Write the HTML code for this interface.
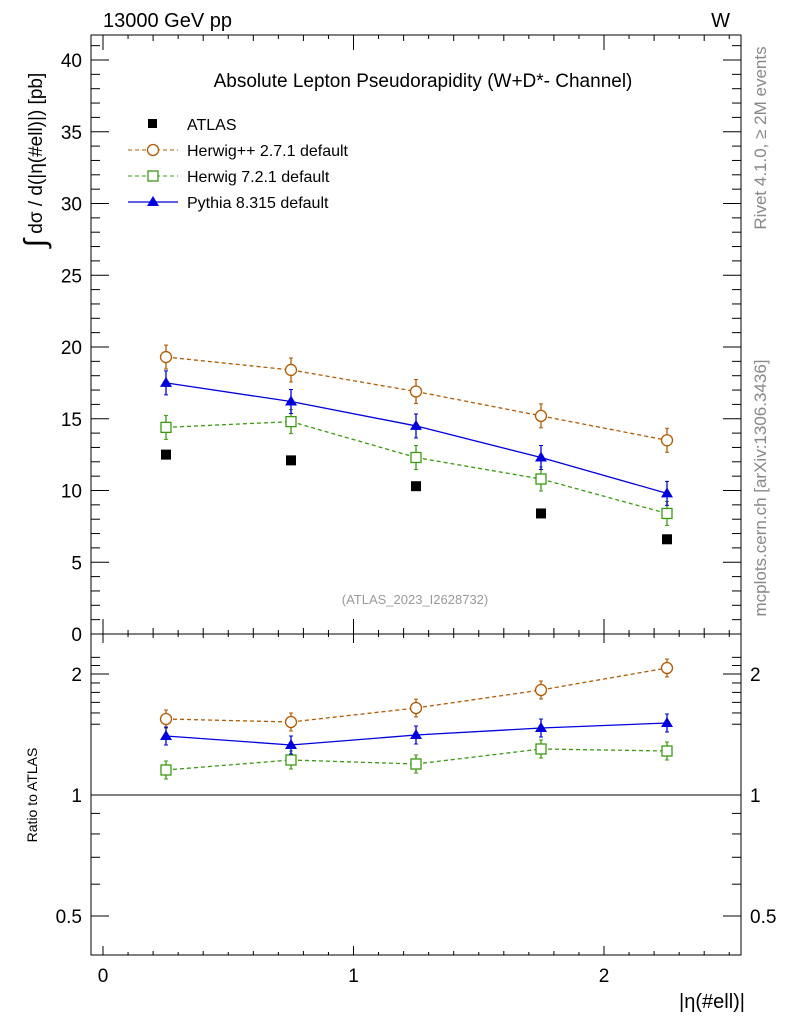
<!DOCTYPE html>
<html><head><meta charset="utf-8"><style>body{margin:0;background:#fff}svg{display:block}text{font-family:"Liberation Sans","DejaVu Sans",sans-serif}</style></head>
<body>
<svg id="s" width="786" height="1024" xmlns="http://www.w3.org/2000/svg">
<rect width="786" height="1024" fill="#fff"/>
<g id="ax" stroke="#000" stroke-width="1" fill="none">
<rect x="91" y="35" width="650" height="599"/>
<rect x="91" y="634" width="650" height="321"/>
<line x1="91" y1="795" x2="741" y2="795"/>
</g>
<g font-size="20">
<text x="103" y="27">13000 GeV pp</text>
<text x="730" y="27" text-anchor="end">W</text>
<text x="423" y="87" text-anchor="middle" font-size="19">Absolute Lepton Pseudorapidity (W+D*- Channel)</text>
</g>
<g font-size="16">
<text x="187" y="130">ATLAS</text>
<text x="187" y="156">Herwig++ 2.7.1 default</text>
<text x="187" y="182">Herwig 7.2.1 default</text>
<text x="187" y="208">Pythia 8.315 default</text>
</g>
<rect x="148" y="119" width="9" height="9" fill="#000"/>
<line x1="128" y1="150" x2="178" y2="150" stroke="#b35900" stroke-dasharray="4,3"/><circle cx="153" cy="150" r="5.5" fill="#fff" stroke="#b35900" stroke-width="1.3"/>
<line x1="128" y1="176" x2="178" y2="176" stroke="#3a9a10" stroke-dasharray="4,3"/><rect x="148" y="171" width="10" height="10" fill="#fff" stroke="#3a9a10" stroke-width="1.3"/>
<line x1="128" y1="202" x2="178" y2="202" stroke="#0000dd" stroke-width="1.3"/><polygon points="153,196 159,206 147,206" fill="#0000dd"/>
<text x="415" y="604" text-anchor="middle" font-size="13" fill="#999">(ATLAS_2023_I2628732)</text>
<g font-size="17" fill="#888">
<text transform="translate(766,138) rotate(-90)" text-anchor="middle">Rivet 4.1.0, ≥ 2M events</text>
<text transform="translate(766,488) rotate(-90)" text-anchor="middle">mcplots.cern.ch [arXiv:1306.3436]</text>
</g>
<text transform="translate(42,160) rotate(-90)" text-anchor="middle" font-size="19"><tspan font-size="30" dy="3">∫</tspan><tspan dy="-3"> dσ / d(|η(#ell)|) [pb]</tspan></text>
<text transform="translate(37,795) rotate(-90)" text-anchor="middle" font-size="14">Ratio to ATLAS</text>
<text x="745" y="1008" text-anchor="end" font-size="20">|η(#ell)|</text>
<g id="lab" font-size="19"></g>
<g id="data"></g>
</svg>
<script>
var ns="http://www.w3.org/2000/svg",ax=document.getElementById('ax'),lab=document.getElementById('lab'),dg=document.getElementById('data');
function L(x1,y1,x2,y2,c,w,d,p){var l=document.createElementNS(ns,'line');l.setAttribute('x1',x1);l.setAttribute('y1',y1);l.setAttribute('x2',x2);l.setAttribute('y2',y2);l.setAttribute('stroke',c||'#000');l.setAttribute('stroke-width',w||1);if(d)l.setAttribute('stroke-dasharray',d);(p||ax).appendChild(l);}
function T(x,y,s,a){var t=document.createElementNS(ns,'text');t.setAttribute('x',x);t.setAttribute('y',y);t.setAttribute('text-anchor',a);t.textContent=s;lab.appendChild(t);}
function Y(v){return 634-v*14.35}
for(var v=0;v<=41;v++){var y=Y(v),m=v%5==0,len=m?18:9;L(91,y,91+len,y);L(741,y,741-len,y);if(m&&v>0)T(82,y+7,v,'end');}
T(82,641,'0','end');
function X(v){return 103+v*250.5}
for(var i=0;i<=25;i++){var x=X(i/10),m=i%10==0,e=i%2==0,len=m?15:(e?6:4),l2=m?9:(e?4:3);L(x,35,x,35+len);L(x,634,x,634-len);L(x,634,x,634+l2);L(x,955,x,955-l2);if(m)T(x,982,i/10,'middle');}
function R(r){return 795-121*Math.log2(r)}
[0.5,1,2].forEach(function(r){var y=R(r);L(91,y,109,y);L(741,y,723,y);T(82,y+7,r,'end');T(750,y+7,r,'start');});
[0.6,0.7,0.8,0.9,1.5,1.6,1.7,1.8,1.9,2.1,2.2].forEach(function(r){var y=R(r);if(y>640){L(91,y,100,y);L(741,y,732,y);}});
L(91,R(1),741,R(1));
var xs=[166,291,416,541,667];
var atl=[12.5,12.1,10.3,8.4,6.6];
atl.forEach(function(v,i){var r=document.createElementNS(ns,'rect');r.setAttribute('x',xs[i]-5);r.setAttribute('y',Y(v)-5);r.setAttribute('width',10);r.setAttribute('height',10);dg.appendChild(r);});
var S=[{c:'#b35900',d:'4,3',m:'o',v:[19.3,18.4,16.9,15.2,13.5],r:[719,722,708,690,668]},
{c:'#3a9a10',d:'4,3',m:'s',v:[14.4,14.8,12.3,10.8,8.4],r:[770,760,764,749,751]},
{c:'#0000dd',d:null,m:'t',v:[17.5,16.2,14.5,12.3,9.8],r:[736,745,735,728,723]}];
S.forEach(function(s){[s.v.map(Y),s.r].forEach(function(ys,k){var e=k?9:12;
for(var i=0;i<4;i++)L(xs[i],ys[i],xs[i+1],ys[i+1],s.c,1.3,s.d,dg);
ys.forEach(function(y,i){var x=xs[i];L(x,y-e,x,y+e,s.c,1.3,null,dg);L(x-2,y-e,x+2,y-e,s.c,1,null,dg);L(x-2,y+e,x+2,y+e,s.c,1,null,dg);var el;
if(s.m=='o'){el=document.createElementNS(ns,'circle');el.setAttribute('cx',x);el.setAttribute('cy',y);el.setAttribute('r',5.5);el.setAttribute('fill','#fff');el.setAttribute('stroke',s.c);el.setAttribute('stroke-width',1.3);}
else if(s.m=='s'){el=document.createElementNS(ns,'rect');el.setAttribute('x',x-5);el.setAttribute('y',y-5);el.setAttribute('width',10);el.setAttribute('height',10);el.setAttribute('fill','#fff');el.setAttribute('stroke',s.c);el.setAttribute('stroke-width',1.3);}
else{el=document.createElementNS(ns,'polygon');el.setAttribute('points',(x)+','+(y-6)+' '+(x+6)+','+(y+4)+' '+(x-6)+','+(y+4));el.setAttribute('fill',s.c);}
dg.appendChild(el);});});});
</script>
</body></html>
